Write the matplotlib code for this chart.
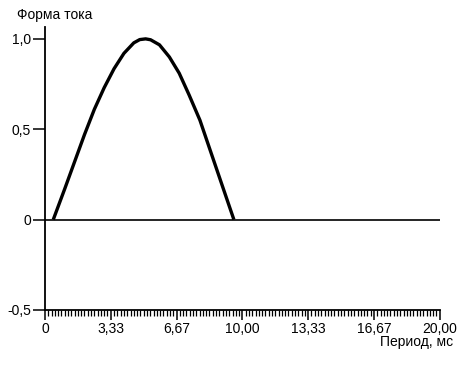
import numpy as np
import matplotlib.pyplot as plt
from matplotlib.ticker import MultipleLocator, FixedLocator

plt.rcParams['font.family'] = ['Liberation Sans', 'DejaVu Sans']

# waveform
t_ms = [0.42, 1.0, 1.5, 2.0, 2.5, 3.0, 3.5, 4.0, 4.5, 4.8, 5.1, 5.35,
        5.8, 6.3, 6.8, 7.3, 7.85, 8.35, 8.85, 9.35, 9.57]
current = [0.0, 0.17, 0.32, 0.47, 0.61, 0.73, 0.835, 0.92, 0.978, 0.996, 1.0, 0.995,
           0.967, 0.90, 0.81, 0.69, 0.55, 0.39, 0.23, 0.07, 0.0]

x_ticks = [0, 10/3, 20/3, 10, 40/3, 50/3, 20]
x_labels = ['0', '3,33', '6,67', '10,00', '13,33', '16,67', '20,00']
y_ticks = [-0.5, 0, 0.5, 1.0]
y_labels = ['-0,5', '0', '0,5', '1,0']

fig = plt.figure(figsize=(4.7, 3.65), dpi=100)
ax = fig.add_axes([0.0957, 0.1507, 0.84, 0.775])

ax.axhline(0, color='black', lw=1.2)
ax.plot(t_ms, current, color='black', lw=2.4, solid_capstyle='butt',
        solid_joinstyle='round')

ax.set_xlim(0, 20)
ax.set_ylim(-0.5, 1.065)
ax.spines['top'].set_visible(False)
ax.spines['right'].set_visible(False)
for s in ['left', 'bottom']:
    ax.spines[s].set_linewidth(1.3)

ax.xaxis.set_major_locator(FixedLocator(x_ticks))
ax.set_xticklabels(x_labels)
ax.xaxis.set_minor_locator(MultipleLocator(1/6))
ax.set_yticks(y_ticks)
ax.set_yticklabels(y_labels)

ax.tick_params(axis='x', which='major', direction='out', length=7, width=1.1,
               pad=2, labelsize=10)
ax.tick_params(axis='x', which='minor', direction='out', length=4, width=0.9)
ax.tick_params(axis='y', which='major', direction='out', length=9, width=1.1,
               pad=1, labelsize=10)

fig.text(0.036, 0.959, 'Форма тока', fontsize=10, ha='left', va='center')
fig.text(0.964, 0.063, 'Период, мс', fontsize=10, ha='right', va='center')

fig.savefig('out.png', dpi=100)
